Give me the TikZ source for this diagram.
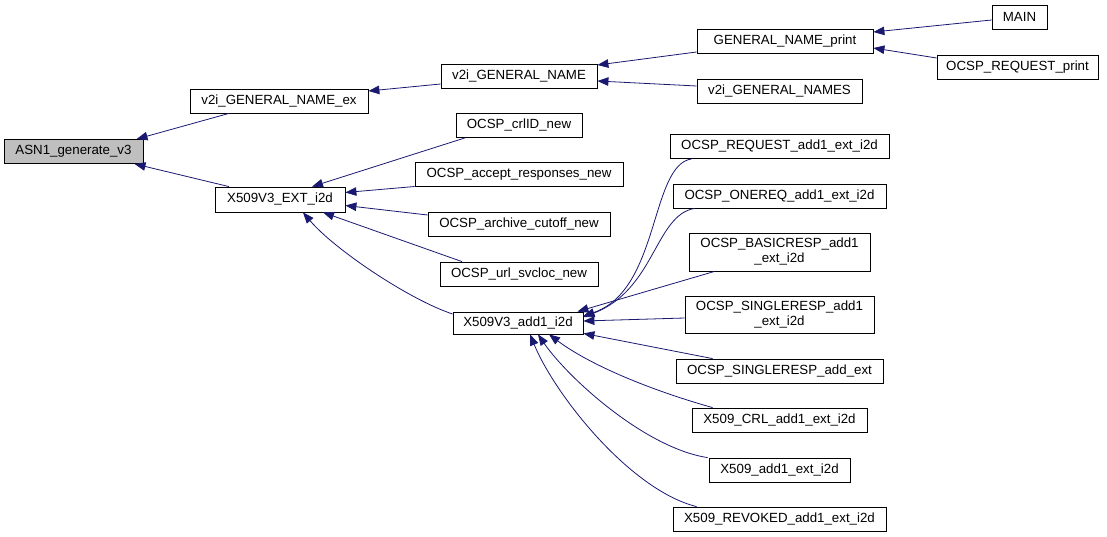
\documentclass[tikz,border=0pt]{standalone}
\usepackage{fontspec}
\setmainfont{Liberation Sans}
\usetikzlibrary{arrows.meta,calc}
\definecolor{edgeblue}{RGB}{25,25,112}
\definecolor{rootgray}{RGB}{191,191,191}
\tikzset{
  fn/.style={draw=black, line width=0.8pt, fill=white, inner sep=0pt, minimum height=24pt,
    font=\fontsize{13.3}{15}\selectfont, align=center},
  rootfn/.style={fn, fill=rootgray},
  call/.style={draw=edgeblue, line width=0.8pt, -{Triangle[length=11pt,width=8.5pt]}},
}
\begin{document}
\begin{tikzpicture}[x=1pt,y=-1pt]
\useasboundingbox (0,0) rectangle (1107,537);
% nodes
\node[rootfn, minimum width=139pt] (asn) at (73.5,151.5) {ASN1\_generate\_v3};
\node[fn, minimum width=178pt] (ex) at (279,101) {v2i\_GENERAL\_NAME\_ex};
\node[fn, minimum width=130pt, minimum height=25pt] (ext) at (280,199.5) {X509V3\_EXT\_i2d};
\node[fn, minimum width=156pt] (gn) at (519,76) {v2i\_GENERAL\_NAME};
\node[fn, minimum width=176pt] (gnp) at (785,41) {GENERAL\_NAME\_print};
\node[fn, minimum width=165pt] (gns) at (779.5,91) {v2i\_GENERAL\_NAMES};
\node[fn, minimum width=55pt] (main) at (1019.5,17) {MAIN};
\node[fn, minimum width=161pt] (orp) at (1017.5,67) {OCSP\_REQUEST\_print};
\node[fn, minimum width=126pt] (crl) at (519,125.5) {OCSP\_crlID\_new};
\node[fn, minimum width=208pt] (acc) at (519,174.5) {OCSP\_accept\_responses\_new};
\node[fn, minimum width=182pt] (arc) at (519,224) {OCSP\_archive\_cutoff\_new};
\node[fn, minimum width=158pt] (url) at (519,274) {OCSP\_url\_svcloc\_new};
\node[fn, minimum width=130pt, minimum height=22pt] (add1) at (518,323) {X509V3\_add1\_i2d};
\node[fn, minimum width=219pt] (req) at (779.5,146.5) {OCSP\_REQUEST\_add1\_ext\_i2d};
\node[fn, minimum width=213pt] (one) at (779.5,196) {OCSP\_ONEREQ\_add1\_ext\_i2d};
\node[fn, minimum width=181pt, minimum height=38pt] (basic) at (779.5,252) {OCSP\_BASICRESP\_add1\\\_ext\_i2d};
\node[fn, minimum width=189pt, minimum height=37pt] (sr) at (779.5,314.5) {OCSP\_SINGLERESP\_add1\\\_ext\_i2d};
\node[fn, minimum width=207pt] (sre) at (779.5,371) {OCSP\_SINGLERESP\_add\_ext};
\node[fn, minimum width=175pt] (crladd) at (779.5,420) {X509\_CRL\_add1\_ext\_i2d};
\node[fn, minimum width=141pt] (xadd) at (779.5,470) {X509\_add1\_ext\_i2d};
\node[fn, minimum width=213pt] (rev) at (779.5,519) {X509\_REVOKED\_add1\_ext\_i2d};
% edges
\draw[call] ($(ex.south)+(-50,0)$) -- ($(asn.north)+(63,0)$);
\draw[call] ($(ext.north)+(-51,0)$) -- ($(asn.south)+(61,0)$);
\draw[call] ($(gn.west)+(0,8)$) -- ($(ex.east)+(0,-10)$);
\draw[call] ($(gnp.west)+(0,11)$) -- ($(gn.east)+(0,-11)$);
\draw[call] ($(gns.west)+(0,-5)$) -- ($(gn.east)+(0,5)$);
\draw[call] ($(main.west)+(0,3)$) -- ($(gnp.east)+(0,-9)$);
\draw[call] ($(orp.west)+(0,-9)$) -- ($(gnp.east)+(0,7)$);
\draw[call] ($(crl.south)+(-54,0)$) -- ($(ext.north)+(32,0)$);
\draw[call] ($(acc.west)+(0,12)$) -- ($(ext.east)+(0,-7)$);
\draw[call] ($(arc.west)+(0,-9)$) -- ($(ext.east)+(0,6)$);
\draw[call] ($(url.north)+(-57,0)$) -- ($(ext.south)+(43,0)$);
\draw[call] ($(add1.west)+(0,-9)$) .. controls (410,300) and (335,250) .. ($(ext.south)+(23,0)$);
\draw[call] ($(req.south west)+(22,0)$) .. controls (650,165) and (660,290) .. ($(add1.east)+(0,-7)$);
\draw[call] ($(one.south west)+(22,0)$) .. controls (655,215) and (655,290) .. ($(add1.east)+(0,-6)$);
\draw[call] ($(basic.south west)+(26,0)$) -- ($(add1.north east)+(-6,0)$);
\draw[call] ($(sr.west)+(0,3.5)$) -- ($(add1.east)+(0,-2)$);
\draw[call] ($(sre.north west)+(37,0)$) -- ($(add1.south east)+(0,-1)$);
\draw[call] ($(crladd.north west)+(21,0)$) .. controls (650,390) and (590,365) .. ($(add1.south)+(31,0)$);
\draw[call] ($(xadd.north west)+(-1,0)$) .. controls (645,448) and (568,378) .. ($(add1.south)+(20,0)$);
\draw[call] ($(rev.north west)+(24,0)$) .. controls (630,490) and (555,395) .. ($(add1.south)+(12,0)$);
\end{tikzpicture}
\end{document}
